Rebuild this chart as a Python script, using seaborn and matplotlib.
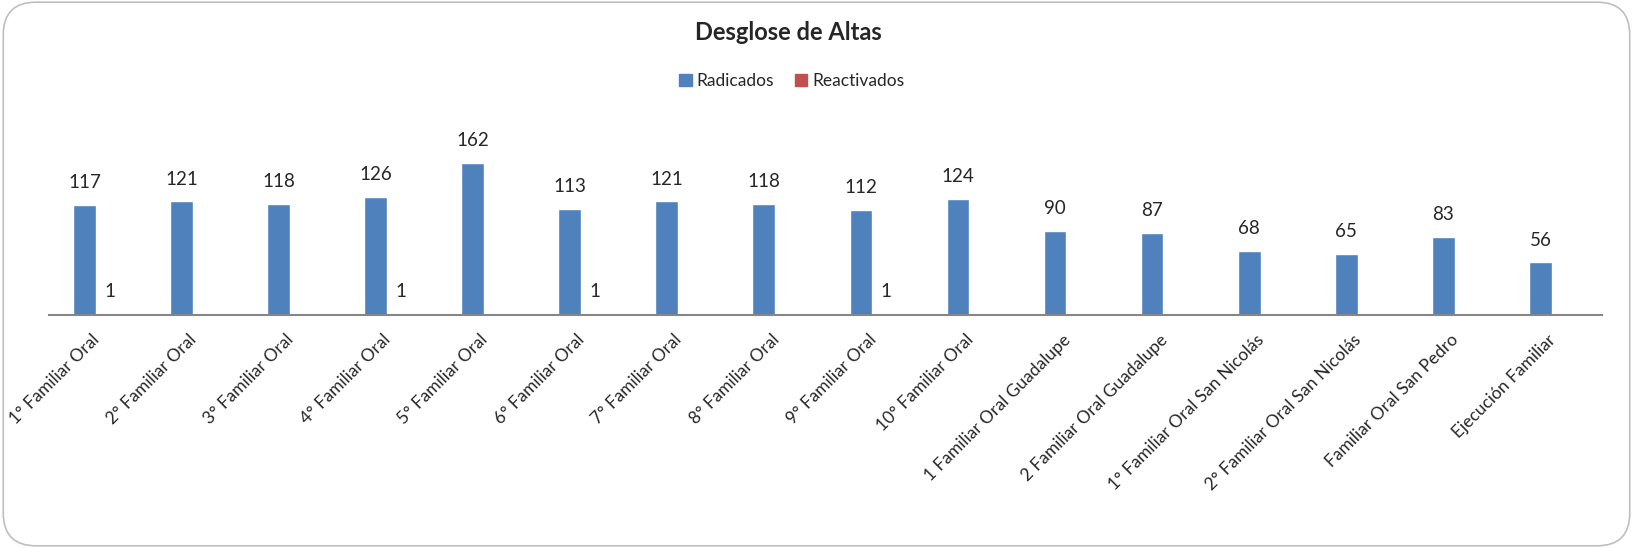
import pandas as pd
import matplotlib.pyplot as plt
import seaborn as sns
from matplotlib.patches import FancyBboxPatch

# Data
categories = ["1° Familiar Oral", "2° Familiar Oral", "3° Familiar Oral", "4° Familiar Oral",
              "5° Familiar Oral", "6° Familiar Oral", "7° Familiar Oral", "8° Familiar Oral",
              "9° Familiar Oral", "10° Familiar Oral", "1 Familiar Oral Guadalupe",
              "2 Familiar Oral Guadalupe", "1° Familiar Oral San Nicolás",
              "2° Familiar Oral San Nicolás", "Familiar Oral San Pedro", "Ejecución Familiar"]
radicados = [117, 121, 118, 126, 162, 113, 121, 118, 112, 124, 90, 87, 68, 65, 83, 56]
reactivados = [1, 0, 0, 1, 0, 1, 0, 0, 1, 0, 0, 0, 0, 0, 0, 0]
series = ["Radicados", "Reactivados"]
colors = ["#4F81BD", "#C0504D"]

df = pd.DataFrame({
    "categoria": categories * 2,
    "valor": radicados + reactivados,
    "serie": [series[0]] * len(categories) + [series[1]] * len(categories),
})

sns.set_style("white")
plt.rcParams["font.family"] = ["Lato", "DejaVu Sans"]

fig = plt.figure(figsize=(16.33, 5.48), dpi=100)
ax = fig.add_axes([48.5 / 1633, 1 - 315 / 548, 1553 / 1633, 169 / 548])

sns.barplot(data=df, x="categoria", y="valor", hue="serie", order=categories,
            hue_order=series, palette=colors, width=0.52, gap=0.1, ax=ax,
            legend=False, saturation=1)

# Value labels, skip empty values
for container in ax.containers:
    labels = [f"{int(v)}" if v > 0 else "" for v in container.datavalues]
    ax.bar_label(container, labels=labels, padding=10, fontsize=13.5)

ax.set_ylim(0, 180)
ax.set_xlim(-0.5, len(categories) - 0.5)
ax.set_xlabel("")
ax.set_ylabel("")
ax.set_yticks([])
for side in ["left", "right", "top"]:
    ax.spines[side].set_visible(False)
ax.spines["bottom"].set_color("#868686")
ax.spines["bottom"].set_linewidth(1.5)
ax.tick_params(axis="x", length=0, pad=16)
plt.setp(ax.get_xticklabels(), rotation=45, ha="right", va="center",
         rotation_mode="anchor", fontsize=12.5)

fig.text(788 / 1633, 1 - 33 / 548, "Desglose de Altas", ha="center", va="center",
         fontsize=17, fontweight="bold")

# Legend
handles = [plt.Rectangle((0, 0), 1, 1, color=c) for c in colors]
fig.legend(handles, series, loc="center", bbox_to_anchor=(792 / 1633, 1 - 81 / 548),
           ncol=2, frameon=False, fontsize=12.5, handlelength=0.7, handleheight=0.7,
           handletextpad=0.3, columnspacing=1.2)

# Rounded chart border
border = FancyBboxPatch((0.002, 0.004), 0.996, 0.992, boxstyle="round,pad=0,rounding_size=0.02",
                        transform=fig.transFigure, fill=False, edgecolor="#BFBFBF",
                        linewidth=1.2, mutation_aspect=1633 / 548)
fig.patches.append(border)

fig.savefig("out.png", dpi=100)
